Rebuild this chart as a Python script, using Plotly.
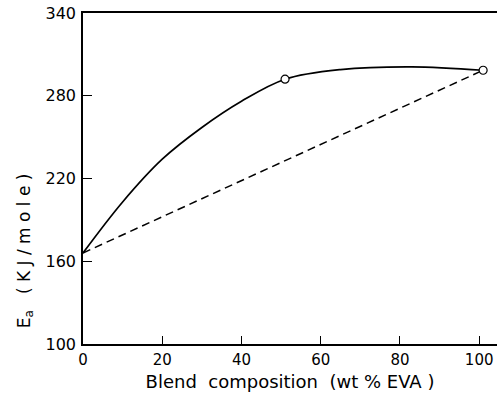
import plotly.graph_objects as go

# Solid curve (wt % EVA, Ea kJ/mole)
curve_x = [0, 10, 20, 30, 40, 51, 65, 83, 101]
curve_y = [166, 203, 234, 257, 276, 292, 299, 301, 298.5]

# Measured points (open circles)
pts_x = [51, 101]
pts_y = [292, 298.5]

# Additivity (dashed) line
add_x = [0, 101]
add_y = [166, 298.5]

x_ticks = [0, 20, 40, 60, 80, 100]
y_ticks = [100, 160, 220, 280, 340]

fig = go.Figure()
fig.add_trace(go.Scatter(x=add_x, y=add_y, mode="lines",
                         line=dict(color="black", width=1.5, dash="8px,5px"),
                         showlegend=False))
fig.add_trace(go.Scatter(x=curve_x, y=curve_y, mode="lines",
                         line=dict(color="black", width=1.7, shape="spline", smoothing=1.0),
                         showlegend=False))
fig.add_trace(go.Scatter(x=pts_x, y=pts_y, mode="markers",
                         marker=dict(size=8, color="white", line=dict(color="black", width=1.2)),
                         showlegend=False))

font = dict(family="DejaVu Sans, sans-serif", color="black")

fig.update_layout(
    width=497, height=400,
    margin=dict(l=83, r=0, t=13, b=56),
    plot_bgcolor="white", paper_bgcolor="white",
    font=dict(**font, size=15),
    xaxis=dict(range=[0, 104.5], tickvals=x_ticks, ticktext=[str(v) for v in x_ticks],
               showgrid=False, zeroline=False, showline=True, linecolor="black", linewidth=1.5,
               mirror=True, ticks="inside", ticklen=8, tickwidth=1.2, tickcolor="black",
               tickfont=dict(size=15), ticklabelstandoff=1,
               title=dict(text="Blend  composition  (wt % EVA )", font=dict(size=18), standoff=8)),
    yaxis=dict(range=[100, 340], tickvals=y_ticks, ticktext=[str(v) for v in y_ticks],
               showgrid=False, zeroline=False, showline=True, linecolor="black", linewidth=1.5,
               ticks="inside", ticklen=9, tickwidth=1.2, tickcolor="black",
               tickfont=dict(size=16), ticklabelstandoff=2),
    annotations=[dict(text="E<sub>a</sub>   ( K J / m o l e )", textangle=-90,
                      xref="paper", yref="paper", x=-0.14, y=0.28, showarrow=False,
                      xanchor="center", yanchor="middle", font=dict(size=17))],
)

fig.write_html("out.html")
